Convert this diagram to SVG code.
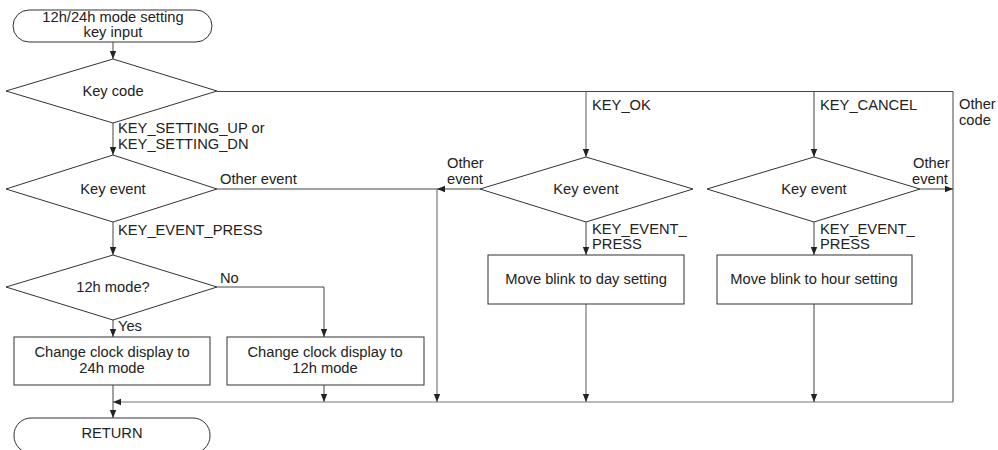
<svg xmlns="http://www.w3.org/2000/svg" width="998" height="450" viewBox="0 0 998 450">
<style>
.s{fill:#fff;stroke:#333;stroke-width:1}
.c{fill:none;stroke:#444;stroke-width:1}
.g{fill:none;stroke:#777;stroke-width:1.2}
text{font-family:"Liberation Sans",Arial,sans-serif;font-size:14.7px;fill:#222}
.m{text-anchor:middle}
</style>
<defs>
<marker id="a" viewBox="0 0 8 8" refX="8" refY="4" markerWidth="8" markerHeight="8" markerUnits="userSpaceOnUse" orient="auto">
<path d="M0,0.8 L8,4 L0,7.2 Z" fill="#222"/>
</marker>
</defs>
<rect width="998" height="450" fill="#fff"/>
<g id="connectors">
<path class="c" d="M113,42 V59" marker-end="url(#a)"/>
<path class="c" d="M217,91.5 H953 V402"/>
<path class="c" d="M113,123 V155" marker-end="url(#a)"/>
<path class="c" d="M217,189 H437"/>
<path class="c" d="M480,189 H437" marker-end="url(#a)"/>
<path class="g" d="M437,189 V402" marker-end="url(#a)"/>
<path class="c" d="M113,222 V255" marker-end="url(#a)"/>
<path class="c" d="M217,287 H324 V337" marker-end="url(#a)"/>
<path class="c" d="M113,320 V337" marker-end="url(#a)"/>
<path class="c" d="M324,385 V402" marker-end="url(#a)"/>
<path class="c" d="M113,385 V418" marker-end="url(#a)"/>
<path class="g" d="M953,402 H113" marker-end="url(#a)"/>
<path class="g" d="M586,91.5 V157" marker-end="url(#a)"/>
<path class="c" d="M586,222 V255" marker-end="url(#a)"/>
<path class="g" d="M586,304 V402" marker-end="url(#a)"/>
<path class="c" d="M814,91.5 V157" marker-end="url(#a)"/>
<path class="c" d="M814,222 V255" marker-end="url(#a)"/>
<path class="c" d="M814,304 V402" marker-end="url(#a)"/>
<path class="c" d="M920,189 H953" marker-end="url(#a)"/>
<text x="118" y="133">KEY_SETTING_UP or</text>
<text x="118" y="149">KEY_SETTING_DN</text>
<text x="220" y="184">Other event</text>
<text x="118" y="235">KEY_EVENT_PRESS</text>
<text x="220" y="283">No</text>
<text x="118" y="331">Yes</text>
<text x="592" y="110">KEY_OK</text>
<text x="447" y="168">Other</text>
<text x="447" y="184">event</text>
<text x="592" y="234">KEY_EVENT_</text>
<text x="592" y="249">PRESS</text>
<text x="820" y="110">KEY_CANCEL</text>
<text x="913" y="168">Other</text>
<text x="912" y="184">event</text>
<text x="820" y="234">KEY_EVENT_</text>
<text x="820" y="249">PRESS</text>
<text x="959" y="109">Other</text>
<text x="959" y="125">code</text>
</g>
<g id="start">
<rect class="s" x="13" y="10" width="199" height="32" rx="16"/>
<text class="m" x="113" y="22">12h/24h mode setting</text>
<text class="m" x="113" y="37">key input</text>
</g>
<g id="keycode">
<polygon class="s" points="6,91 113,59 217,91 113,123"/>
<text class="m" x="113" y="96">Key code</text>
</g>
<g id="keyevent1">
<polygon class="s" points="6,189 113,155 217,189 113,222"/>
<text class="m" x="113" y="194">Key event</text>
</g>
<g id="mode12">
<polygon class="s" points="6,287 113,255 217,287 113,320"/>
<text class="m" x="113" y="292">12h mode?</text>
</g>
<g id="to24">
<rect class="s" x="14" y="337" width="196" height="48"/>
<text class="m" x="112" y="357">Change clock display to</text>
<text class="m" x="112" y="373">24h mode</text>
</g>
<g id="to12">
<rect class="s" x="227" y="337" width="197" height="48"/>
<text class="m" x="325" y="357">Change clock display to</text>
<text class="m" x="325" y="373">12h mode</text>
</g>
<g id="return">
<rect class="s" x="14" y="418" width="196" height="35" rx="17"/>
<text class="m" x="112" y="438">RETURN</text>
</g>
<g id="keyevent2">
<polygon class="s" points="480,189 586,157 693,189 586,222"/>
<text class="m" x="586" y="194">Key event</text>
</g>
<g id="dayset">
<rect class="s" x="488" y="255" width="196" height="49"/>
<text class="m" x="586" y="284">Move blink to day setting</text>
</g>
<g id="keyevent3">
<polygon class="s" points="707,189 814,157 920,189 814,222"/>
<text class="m" x="814" y="194">Key event</text>
</g>
<g id="hourset">
<rect class="s" x="717" y="255" width="195" height="49"/>
<text class="m" x="814" y="284">Move blink to hour setting</text>
</g>
</svg>
